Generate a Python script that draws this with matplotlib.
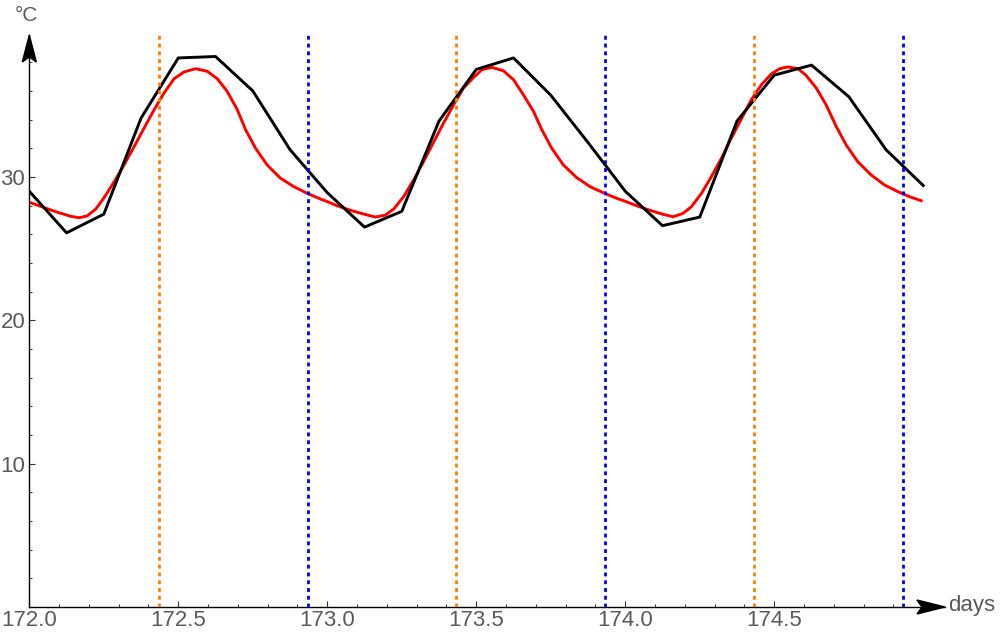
import matplotlib
matplotlib.use("Agg")
import matplotlib.pyplot as plt
from matplotlib.patches import Polygon
from matplotlib.ticker import MultipleLocator

plt.rcParams["font.family"] = ["Liberation Sans", "DejaVu Sans"]

# measured air temperature, every 3 hours (day of year)
obs_days = [172.0, 172.125, 172.25, 172.375, 172.5, 172.625, 172.75, 172.875,
            173.0, 173.125, 173.25, 173.375, 173.5, 173.625, 173.75, 173.875,
            174.0, 174.125, 174.25, 174.375, 174.5, 174.625, 174.75, 174.875,
            175.0]
obs_temp = [29.0, 26.1, 27.4, 34.1, 38.3, 38.4, 36.0, 31.9,
            28.9, 26.5, 27.6, 33.9, 37.5, 38.3, 35.7, 32.4,
            29.0, 26.6, 27.2, 33.9, 37.1, 37.8, 35.6, 31.9,
            29.4]

# model curve
model_days = [172.000, 172.050, 172.095, 172.140, 172.168, 172.195, 172.223, 172.251,
              172.285, 172.318, 172.352, 172.385, 172.419, 172.452, 172.486, 172.519,
              172.558, 172.597, 172.631, 172.664, 172.698, 172.726, 172.759, 172.798,
              172.843, 172.888, 172.932, 172.977, 173.000, 173.033, 173.078, 173.122,
              173.161, 173.195, 173.223, 173.256, 173.290, 173.323, 173.357, 173.390,
              173.424, 173.457, 173.491, 173.519, 173.552, 173.591, 173.625, 173.658,
              173.692, 173.720, 173.753, 173.792, 173.837, 173.882, 173.926, 173.971,
              174.000, 174.038, 174.083, 174.127, 174.161, 174.194, 174.222, 174.256,
              174.289, 174.323, 174.356, 174.390, 174.423, 174.457, 174.490, 174.518,
              174.546, 174.580, 174.607, 174.641, 174.674, 174.708, 174.741, 174.780,
              174.825, 174.870, 174.915, 174.954, 174.993]
model_temp = [28.23, 27.86, 27.53, 27.25, 27.15, 27.29, 27.76, 28.55,
              29.67, 30.84, 32.12, 33.40, 34.69, 35.85, 36.85, 37.32,
              37.55, 37.37, 36.85, 35.97, 34.69, 33.29, 32.01, 30.84,
              29.91, 29.32, 28.86, 28.46, 28.28, 27.99, 27.67, 27.41,
              27.20, 27.34, 27.76, 28.62, 29.79, 31.07, 32.43, 33.75,
              35.03, 36.20, 36.94, 37.48, 37.64, 37.41, 36.78, 35.73,
              34.57, 33.29, 32.01, 30.84, 29.95, 29.32, 28.90, 28.51,
              28.30, 27.99, 27.67, 27.39, 27.22, 27.46, 27.92, 28.86,
              30.02, 31.31, 32.71, 34.06, 35.38, 36.43, 37.18, 37.55,
              37.67, 37.55, 37.08, 36.20, 35.03, 33.52, 32.24, 31.07,
              30.14, 29.44, 28.97, 28.62, 28.34]

sunrise = [172.435, 173.432, 174.432]
sunset = [172.935, 173.931, 174.932]

xticks = [172.0, 172.5, 173.0, 173.5, 174.0, 174.5]
xlabels = ["172.0", "172.5", "173.0", "173.5", "174.0", "174.5"]
yticks = [10, 20, 30]
ylabels = ["10", "20", "30"]

fig = plt.figure(figsize=(10, 6.38), dpi=100)
ax = fig.add_axes([0.0293, 31 / 638, 0.9157, 572 / 638])

ax.plot(model_days, model_temp, color="#ff0000", lw=2.1, solid_joinstyle="round")
ax.plot(obs_days, obs_temp, color="black", lw=2.1)

for t in sunrise:
    ax.axvline(t, color="#ff8000", lw=2.0, dashes=(1.4, 1.4), zorder=3)
for t in sunset:
    ax.axvline(t, color="#0000ff", lw=2.0, dashes=(1.4, 1.4), zorder=3)

ax.set_xlim(172.0, 175.073)
ax.set_ylim(0, 39.9)

ax.set_xticks(xticks)
ax.set_xticklabels(xlabels)
ax.set_yticks(yticks)
ax.set_yticklabels(ylabels)
ax.xaxis.set_minor_locator(MultipleLocator(0.1))
ax.yaxis.set_minor_locator(MultipleLocator(2))

ax.tick_params(which="major", direction="in", length=4.5, width=0.8, color="#333333",
               labelsize=16, labelcolor="#5a5a5a")
ax.tick_params(which="minor", direction="in", length=2.2, width=0.7, color="#333333")
ax.tick_params(axis="x", pad=2.5)
ax.tick_params(axis="y", pad=3)

for side in ["top", "right"]:
    ax.spines[side].set_visible(False)
for side in ["left", "bottom"]:
    ax.spines[side].set_linewidth(1.0)
    ax.spines[side].set_color("black")

# arrow heads at the axis ends
w, h = 915.7, 572.0
yhead = Polygon([(0, 1), (7 / w, 1 - 27 / h), (0, 1 - 22 / h), (-7 / w, 1 - 27 / h)],
                closed=True, transform=ax.transAxes, clip_on=False, color="black", zorder=5)
xhead = Polygon([(1, 0), (1 - 28 / w, 7 / h), (1 - 23 / w, 0), (1 - 28 / w, -7 / h)],
                closed=True, transform=ax.transAxes, clip_on=False, color="black", zorder=5)
ax.add_patch(yhead)
ax.add_patch(xhead)

fig.text(15 / 1000, 1 - 21 / 638, "°C", fontsize=15, color="#5a5a5a", ha="left", va="baseline")
fig.text(948 / 1000, 1 - 606 / 638, "days", fontsize=16, color="#5a5a5a", ha="left", va="center")

fig.savefig("out.png", dpi=100)
